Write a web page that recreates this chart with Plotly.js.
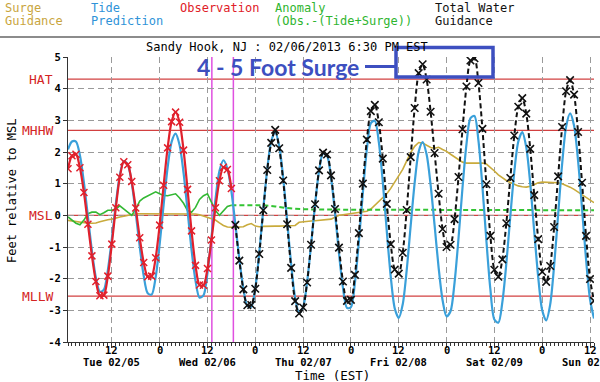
<!DOCTYPE html>
<html><head><meta charset="utf-8">
<script src="https://cdn.plot.ly/plotly-3.0.1.min.js"></script>
<style>html,body{margin:0;padding:0;background:#fff;}#chart{width:600px;height:382px;}</style>
</head><body><div id="chart"></div>
<script>
// ---- data (hours counted from Tue 02/05/2013 00:00 EST) ----
const tideStartHour = 1;
const tidePrediction = [2.08, 2.33, 2.33, 1.89, 1.03, -0.04, -1.12, -1.97, -2.41, -2.35, -1.73, -0.74, 0.36, 1.27, 1.71, 1.61, 1.01, 0.07, -0.99, -1.91, -2.46, -2.50, -1.95, -0.92, 0.34, 1.51, 2.32, 2.58, 2.22, 1.34, 0.15, -1.08, -2.07, -2.60, -2.53, -1.82, -0.70, 0.50, 1.40, 1.74, 1.48, 0.76, -0.28, -1.38, -2.30, -2.86, -2.89, -2.30, -1.18, 0.19, 1.46, 2.34, 2.62, 2.20, 1.19, -0.17, -1.54, -2.60, -3.08, -2.90, -2.11, -0.93, 0.34, 1.40, 1.95, 1.88, 1.20, 0.08, -1.20, -2.29, -2.92, -2.90, -2.13, -0.82, 0.72, 2.08, 2.91, 2.99, 2.31, 1.05, -0.50, -1.94, -2.94, -3.24, -2.81, -1.73, -0.32, 1.03, 2.01, 2.31, 1.92, 0.96, -0.32, -1.64, -2.68, -3.19, -3.03, -2.13, -0.72, 0.87, 2.25, 3.07, 3.14, 2.36, 0.91, -0.81, -2.34, -3.29, -3.39, -2.74, -1.52, -0.03, 1.37, 2.33, 2.63, 2.15, 1.01, -0.51, -1.95, -3.00, -3.32, -2.82, -1.58, 0.03, 1.62, 2.80, 3.22, 2.83, 1.73, 0.21, -1.38, -2.65, -3.26];

const obsStartHour = 1;
const observation = [1.47, 1.88, 1.93, 1.50, 0.72, -0.28, -1.28, -2.09, -2.54, -2.52, -1.92, -0.91, 0.24, 1.20, 1.69, 1.60, 1.07, 0.23, -0.71, -1.49, -1.94, -1.92, -1.34, -0.31, 0.95, 2.13, 2.96, 3.26, 2.94, 2.06, 0.82, -0.49, -1.58, -2.20, -2.21, -1.68, -0.78, 0.24, 1.09, 1.52, 1.45, 0.85];

const surgeStartHour = 1;
const surgeGuidance = [-0.16, -0.18, -0.20, -0.22, -0.24, -0.25, -0.25, -0.24, -0.20, -0.16, -0.14, -0.12, -0.08, -0.05, -0.03, 0.00, 0.03, 0.05,
  0.05, 0.05, 0.05, 0.05, 0.05, 0.05, 0.05, 0.05, 0.05, 0.05, 0.05, 0.05, 0.05, 0.05,
  0.04, 0.02, -0.02, -0.06, -0.10, -0.15, -0.24, -0.32, -0.37, -0.38, -0.38, -0.37, -0.36, -0.30, -0.26, -0.34, -0.36, -0.35,
  -0.34, -0.34, -0.34, -0.34, -0.34, -0.34, -0.34, -0.32, -0.22, -0.20,
  -0.19, -0.18, -0.17, -0.16, -0.15, -0.14, -0.12, -0.06, 0.00, 0.02, 0.04, 0.05, 0.07, 0.08, 0.10, 0.13, 0.20, 0.32, 0.45, 0.56,
  0.68, 0.85, 1.05, 1.22, 1.45, 1.72, 1.98, 2.18, 2.30, 2.28, 2.20, 2.14, 2.12, 2.15, 2.08, 2.02, 1.93, 1.84, 1.76, 1.68,
  1.65, 1.65, 1.65, 1.65, 1.65, 1.62, 1.52, 1.40, 1.28, 1.18, 1.10, 1.04, 0.98, 0.93, 0.90, 0.89, 0.92, 0.98, 1.03, 1.05,
  1.05, 1.05, 1.04, 1.03, 1.00, 0.95, 0.89, 0.82, 0.74, 0.66, 0.57, 0.48, 0.40];

const anomalyStartHour = 1;
const anomalyObserved = [-0.05, -0.15, -0.25, -0.30, -0.15, 0.05, 0.10, 0.10, 0.02, 0.08, 0.16, 0.16, 0.20, 0.30, 0.20, 0.08, 0.00, 0.20, 0.45, 0.55, 0.62, 0.68, 0.74, 0.68, 0.63, 0.62, 0.66, 0.68, 0.55, 0.38, 0.15, 0.10, 0.25, 0.50, 0.62, 0.68, 0.42, 0.15, 0.00, 0.15, 0.28, 0.32];

const anomalyFcstHours = [42, 50, 53, 56, 60, 70, 133];
const anomalyForecast  = [0.32, 0.32, 0.28, 0.23, 0.19, 0.18, 0.16];

const totalStartHour = 43;
const totalWater = [-0.30, -1.43, -2.34, -2.84, -2.83, -2.32, -1.22, 0.16, 1.43, 2.29, 2.70, 2.12, 1.10, -0.28, -1.66, -2.71, -3.10, -2.91, -2.12, -0.93, 0.35, 1.42, 1.98, 1.92, 1.26, 0.20, -1.02, -2.09, -2.70, -2.67, -1.88, -0.56, 1.00, 2.39, 3.29, 3.49, 2.94, 1.79, 0.36, -0.91, -1.71, -1.84, -1.18, 0.17, 1.84, 3.39, 4.49, 4.77, 4.29, 3.27, 1.97, 0.68, -0.43, -1.00, -0.93, -0.12, 1.21, 2.72, 4.07, 4.89, 4.96, 4.18, 2.73, 0.98, -0.65, -1.72, -1.94, -1.39, -0.25, 1.18, 2.52, 3.43, 3.70, 3.21, 2.10, 0.64, -0.75, -1.78, -2.10, -1.60, -0.37, 1.23, 2.79, 3.92, 4.27, 3.81, 2.63, 1.03, -0.65, -2.01, -2.70];

const datumNames  = ['HAT', 'MHHW', 'MSL', 'MLLW'];
const datumValues = [4.30, 2.68, 0.00, -2.55];

const timeMarkerHours = [37.1, 42.5];

const tickHours  = [12, 24, 36, 48, 60, 72, 84, 96, 108, 120, 132];
const hourLabels = ['12', '0', '12', '0', '12', '0', '12', '0', '12', '0', '12'];
const dayLabelHours = [12, 36, 60, 84, 108, 132];
const dayLabels = ['Tue 02/05', 'Wed 02/06', 'Thu 02/07', 'Fri 02/08', 'Sat 02/09', 'Sun 02/10'];
const yTicks = [-4, -3, -2, -1, 0, 1, 2, 3, 4, 5];

const rangeHours = [1, 133];

// ---- helpers ----
function hToDate(h) {
  const d = new Date(Date.UTC(2013, 1, 5, 0, 0, 0) + Math.round(h * 3600000));
  return d.toISOString().slice(0, 16).replace('T', ' ');
}
function seriesX(start, arr) { return arr.map((_, i) => hToDate(start + i)); }

const mono = 'DejaVu Sans Mono, monospace';
const L = 68, R = 594, T = 57, B = 342;
const px = x => (x - L) / (R - L);
const py = y => (B - y) / (B - T);

const traces = [
  { x: seriesX(surgeStartHour, surgeGuidance), y: surgeGuidance, mode: 'lines',
    line: { color: '#c9ab3c', width: 1.6 }, hoverinfo: 'skip' },
  { x: seriesX(anomalyStartHour, anomalyObserved), y: anomalyObserved, mode: 'lines',
    line: { color: '#33b833', width: 1.6 }, hoverinfo: 'skip' },
  { x: anomalyFcstHours.map(hToDate), y: anomalyForecast, mode: 'lines',
    line: { color: '#33c433', width: 2, dash: '5px,3px' }, hoverinfo: 'skip' },
  { x: seriesX(tideStartHour, tidePrediction), y: tidePrediction, mode: 'lines',
    line: { color: '#3aa0da', width: 2.2, shape: 'spline', smoothing: 0.8 }, hoverinfo: 'skip' },
  { x: seriesX(obsStartHour, observation), y: observation, mode: 'lines+markers',
    line: { color: '#e0202c', width: 2.2, shape: 'spline', smoothing: 0.8 },
    marker: { symbol: 'x-thin-open', size: 7, color: '#e0202c', line: { color: '#e0202c', width: 1.5 } }, hoverinfo: 'skip' },
  { x: seriesX(totalStartHour, totalWater), y: totalWater, mode: 'lines+markers',
    line: { color: '#111', width: 2, dash: '5px,3px', shape: 'spline', smoothing: 0.8 },
    marker: { symbol: 'x-thin-open', size: 7.5, color: '#111', line: { color: '#111', width: 1.6 } }, hoverinfo: 'skip' }
];

const shapes = [];
datumValues.forEach(v => shapes.push({ type: 'line', xref: 'paper', yref: 'y', x0: 0, x1: 1, y0: v, y1: v,
  line: { color: '#d24040', width: 1.3 }, layer: 'between' }));
timeMarkerHours.forEach(h => shapes.push({ type: 'line', xref: 'x', yref: 'paper', x0: hToDate(h), x1: hToDate(h), y0: 0, y1: 1,
  line: { color: '#e050e0', width: 1.5 }, layer: 'between' }));
shapes.push({ type: 'line', xref: 'paper', yref: 'paper', x0: px(0), x1: px(600), y0: py(37), y1: py(37), line: { color: '#666', width: 1.5 } });
const calloutColor = '#3d4fc0';
shapes.push({ type: 'rect', xref: 'paper', yref: 'paper', x0: px(396), x1: px(493), y0: py(77), y1: py(47.5),
  line: { color: calloutColor, width: 3.5 }, fillcolor: 'rgba(0,0,0,0)' });
shapes.push({ type: 'line', xref: 'paper', yref: 'paper', x0: px(365), x1: px(396), y0: py(66.5), y1: py(66.5),
  line: { color: calloutColor, width: 3 } });

const annotations = [];
datumNames.forEach((n, i) => annotations.push({ xref: 'paper', yref: 'y', x: px(55), y: datumValues[i], text: n,
  xanchor: 'right', yanchor: 'middle', showarrow: false, font: { family: mono, size: 13, color: '#d42424' } }));

tickHours.forEach((h, i) => annotations.push({ xref: 'x', yref: 'paper', x: hToDate(h), y: py(350), text: hourLabels[i],
  xanchor: 'center', yanchor: 'middle', showarrow: false, font: { family: mono, size: 10.5, color: '#000', weight: 'bold' } }));
dayLabelHours.forEach((h, i) => annotations.push({ xref: 'x', yref: 'paper', x: hToDate(h), y: py(361.5), text: dayLabels[i],
  xanchor: 'center', yanchor: 'middle', showarrow: false, font: { family: mono, size: 10.5, color: '#000', weight: 'bold' } }));

const header = [
  { x: 3, y: 8.5, t: 'Surge', c: '#c9a53e' }, { x: 3, y: 20.8, t: 'Guidance', c: '#c9a53e' },
  { x: 89, y: 8.5, t: 'Tide', c: '#2f93d8' }, { x: 89, y: 20.8, t: 'Prediction', c: '#2f93d8' },
  { x: 177.5, y: 8.5, t: 'Observation', c: '#e02028' },
  { x: 273, y: 8.5, t: 'Anomaly', c: '#2fb52f' }, { x: 273, y: 20.8, t: '(Obs.-(Tide+Surge))', c: '#2fb52f' },
  { x: 432.5, y: 8.5, t: 'Total Water', c: '#111' }, { x: 432.5, y: 20.8, t: 'Guidance', c: '#111' }
];
header.forEach(h => annotations.push({ xref: 'paper', yref: 'paper', x: px(h.x), y: py(h.y), text: h.t,
  xanchor: 'left', yanchor: 'middle', showarrow: false, font: { family: mono, size: 12, color: h.c } }));

annotations.push({ xref: 'paper', yref: 'paper', x: px(287), y: py(47), text: 'Sandy Hook, NJ : 02/06/2013 6:30 PM EST',
  xanchor: 'center', yanchor: 'middle', showarrow: false, font: { family: mono, size: 12, color: '#000' } });
annotations.push({ xref: 'paper', yref: 'paper', x: px(12), y: py(191), text: 'Feet relative to MSL', textangle: -90,
  xanchor: 'center', yanchor: 'middle', showarrow: false, font: { family: mono, size: 12, color: '#000' } });
annotations.push({ xref: 'paper', yref: 'paper', x: px(332), y: py(375.5), text: 'Time (EST)',
  xanchor: 'center', yanchor: 'middle', showarrow: false, font: { family: mono, size: 12.5, color: '#000' } });
annotations.push({ xref: 'paper', yref: 'paper', x: px(361), y: py(67), text: '<b>4 - 5 Foot Surge</b>',
  xanchor: 'right', yanchor: 'middle', showarrow: false, font: { family: 'Lato, Open Sans, sans-serif', size: 23, color: calloutColor } });

const layout = {
  width: 600, height: 382,
  margin: { l: L, r: 600 - R, t: T, b: 382 - B, pad: 0 },
  paper_bgcolor: '#fff', plot_bgcolor: '#fff',
  showlegend: false,
  xaxis: {
    type: 'date', range: rangeHours.map(hToDate), tickmode: 'array',
    tickvals: tickHours.map(hToDate), ticktext: hourLabels, showticklabels: false,
    ticks: 'outside', ticklen: 5, tickcolor: '#333', tickwidth: 1,
    showline: true, linecolor: '#333', linewidth: 1,
    showgrid: true, gridcolor: '#9a9a9a', griddash: '6px,4px', gridwidth: 1,
    minor: { tickmode: 'linear', tick0: hToDate(0), dtick: 3600000, ticks: 'outside', ticklen: 3, tickcolor: '#333', showgrid: false },
    automargin: false, zeroline: false, fixedrange: true
  },
  yaxis: {
    range: [-4, 5], tickmode: 'array', tickvals: yTicks, ticktext: yTicks.map(String),
    ticks: 'outside', ticklen: 4, tickcolor: '#333',
    showline: true, linecolor: '#333', linewidth: 1,
    showgrid: true, gridcolor: '#9a9a9a', griddash: '6px,4px', gridwidth: 1,
    tickfont: { family: mono, size: 10.5, color: '#000', weight: 'bold' },
    zeroline: false, automargin: false, fixedrange: true
  },
  shapes: shapes,
  annotations: annotations
};

Plotly.newPlot('chart', traces, layout, { staticPlot: true, displayModeBar: false });
</script></body></html>
